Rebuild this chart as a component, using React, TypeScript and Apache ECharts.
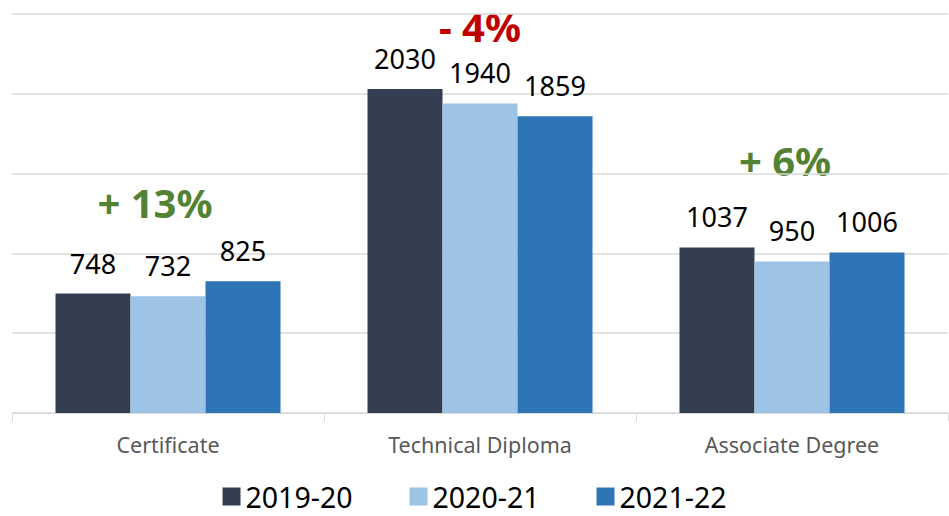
import React, { useEffect, useRef } from "react";
import * as echarts from "echarts";

const categories = ["Certificate", "Technical Diploma", "Associate Degree"];
const seriesNames = ["2019-20", "2020-21", "2021-22"];
const values2019 = [748, 2030, 1037];
const values2020 = [732, 1940, 950];
const values2021 = [825, 1859, 1006];
const changeLabels = ["+ 13%", "- 4%", "+ 6%"];
const changeColors = ["#548235", "#C00000", "#548235"];
const colors = ["#333F50", "#9DC3E6", "#2E75B6"];

const FONT = "'Noto Sans', 'DejaVu Sans', sans-serif";

export default function App() {
  const ref = useRef<HTMLDivElement>(null);
  useEffect(() => {
    document.body.style.margin = "0";
    const chart = echarts.init(ref.current!, null, { renderer: "svg" });
    const all = [values2019, values2020, values2021];
    const changePos = [
      [155, 202],
      [480, 26],
      [785, 160],
    ];
    chart.setOption({
      animation: false,
      color: colors,
      grid: { left: 12, right: 1, top: 14, bottom: 103, containLabel: false },
      legend: {
        data: seriesNames,
        bottom: 0,
        left: "center",
        icon: "rect",
        itemWidth: 18,
        itemHeight: 18,
        itemGap: 57,
        textStyle: { fontFamily: FONT, fontSize: 28.5, color: "#000" },
      },
      xAxis: {
        type: "category",
        data: categories,
        axisLine: { lineStyle: { color: "#D9D9D9", width: 1 } },
        axisTick: { show: true, length: 8, lineStyle: { color: "#D9D9D9" } },
        axisLabel: { fontFamily: FONT, fontSize: 21.5, color: "#595959", margin: 20 },
      },
      yAxis: {
        type: "value",
        min: 0,
        max: 2500,
        interval: 500,
        axisLabel: { show: false },
        axisLine: { show: false },
        axisTick: { show: false },
        splitLine: { lineStyle: { color: "#D9D9D9", width: 1.5 } },
      },
      series: all.map((vals, i) => ({
        name: seriesNames[i],
        type: "bar",
        data: vals,
        barWidth: 75,
        barGap: "0%",
        itemStyle: { color: colors[i] },
        label: {
          show: true,
          position: "top",
          distance: 17,
          fontFamily: FONT,
          fontSize: 27,
          color: "#000",
        },
      })),
      graphic: changeLabels.map((t, i) => ({
        type: "text",
        x: changePos[i][0],
        y: changePos[i][1],
        style: {
          text: t,
          fill: changeColors[i],
          font: `bold 40px ${FONT}`,
          textAlign: "center",
          textVerticalAlign: "middle",
        },
      })),
    });
    return () => chart.dispose();
  }, []);
  return (
    <div
      ref={ref}
      style={{ position: "absolute", left: 0, top: 0, width: 949, height: 516 }}
    />
  );
}
